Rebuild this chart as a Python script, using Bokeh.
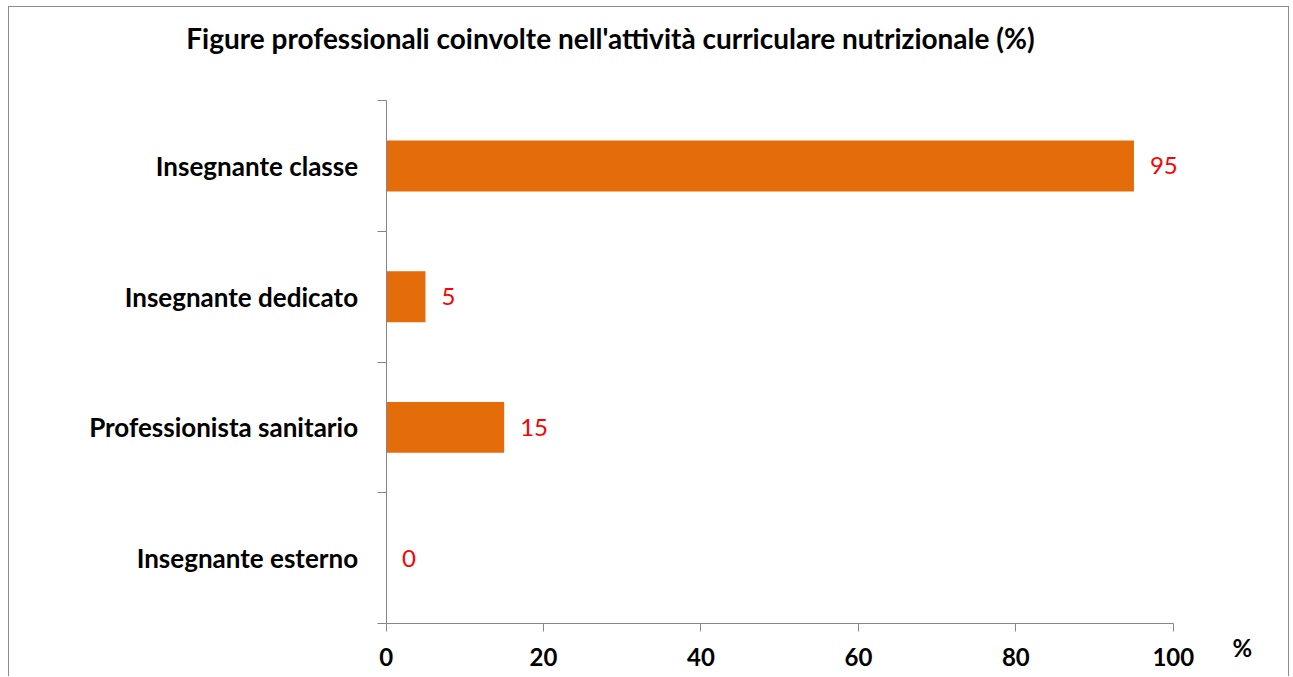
from bokeh.plotting import figure
from bokeh.models import Range1d, FixedTicker, Label, ColumnDataSource, LabelSet, LinearAxis
from bokeh.core.properties import value
from bokeh.embed import file_html
from bokeh.resources import INLINE

title_text = "Figure professionali coinvolte nell'attività curriculare nutrizionale (%)"
categories = ["Insegnante classe", "Insegnante dedicato", "Professionista sanitario", "Insegnante esterno"]
values = [95, 5, 15, 0]
x_ticks = [0, 20, 40, 60, 80, 100]
x_unit_label = "%"

n = len(categories)
ypos = [n - 1 - i + 0.5 for i in range(n)]

FONT = "Lato"
AXIS_COLOR = "#868686"
BORDER = "1px solid #8c8c8c"

# ---- layout (page pixels) ----
CANVAS_X0, CANVAS_Y0 = 9, 7          # page position of canvas top-left (after margin + border)
W, H = 1279, 669                      # canvas size
AX_X0, AX_X1 = 385, 1171              # page x of 0 and 100
AX_YTOP, AX_YBOT = 100, 622           # page y of top/bottom of the category axis

k = (AX_X1 - AX_X0) / (x_ticks[-1] - x_ticks[0])
band = (AX_YBOT - AX_YTOP) / n
x_start = x_ticks[0] - (AX_X0 - CANVAS_X0) / k
x_end = x_start + W / k
y_end = n + (AX_YTOP - CANVAS_Y0) / band
y_start = y_end - H / band

def dx(px):
    return x_start + (px - CANVAS_X0) / k

def dy(py):
    return y_end - (py - CANVAS_Y0) / band

p = figure(width=W + 2, height=H + 1, output_backend="svg", toolbar_location=None,
           x_range=Range1d(x_start, x_end), y_range=Range1d(y_start, y_end),
           x_axis_location=None, y_axis_location=None,
           min_border=0, min_border_left=0, min_border_right=0, min_border_top=0, min_border_bottom=0,
           styles={"margin-left": "8px", "margin-top": "6px",
                   "border-left": BORDER, "border-top": BORDER, "border-right": BORDER})
p.outline_line_color = None
p.grid.visible = False

src = ColumnDataSource(dict(y=ypos, v=values, cat=categories, lab=[str(v) for v in values]))
p.hbar(y="y", right="v", left=0, height=0.39, source=src, color="#E46C0A", line_color=None)

p.add_layout(LabelSet(x="v", y="y", text="lab", source=src, x_offset=16, text_baseline="middle",
                      text_align="left", text_color="#FF0000", text_font=value(FONT),
                      text_font_size="24px"))

# x axis
xa = LinearAxis(fixed_location=0, bounds=(x_ticks[0], x_ticks[-1]))
xa.ticker = FixedTicker(ticks=x_ticks)
xa.axis_line_color = AXIS_COLOR
xa.major_tick_line_color = AXIS_COLOR
xa.major_tick_out = 8
xa.major_tick_in = 0
xa.minor_tick_line_color = None
xa.major_label_text_font = FONT
xa.major_label_text_font_style = "bold"
xa.major_label_text_font_size = "24px"
xa.major_label_text_color = "black"
xa.major_label_standoff = 17
p.add_layout(xa, "below")

# y axis
ya = LinearAxis(fixed_location=x_ticks[0], bounds=(0, n))
ya.ticker = FixedTicker(ticks=ypos, minor_ticks=list(range(n + 1)))
ya.major_label_overrides = {y: c for y, c in zip(ypos, categories)}
ya.axis_line_color = AXIS_COLOR
ya.major_tick_line_color = None
ya.major_tick_out = 0
ya.major_tick_in = 0
ya.minor_tick_line_color = AXIS_COLOR
ya.minor_tick_out = 9
ya.minor_tick_in = 0
ya.major_label_text_font = FONT
ya.major_label_text_font_style = "bold"
ya.major_label_text_font_size = "26px"
ya.major_label_text_color = "black"
ya.major_label_standoff = 19
p.add_layout(ya, "left")

p.add_layout(Label(x=dx(1240), y=dy(646), text=x_unit_label, text_align="center",
                   text_baseline="alphabetic", text_font=FONT, text_font_style="bold",
                   text_font_size="24px", text_color="black"))
p.add_layout(Label(x=dx(609), y=dy(37), text=title_text, text_align="center",
                   text_baseline="alphabetic", text_font=FONT, text_font_style="bold",
                   text_font_size="28px", text_color="black"))

open("out.html", "w").write(file_html(p, INLINE))
